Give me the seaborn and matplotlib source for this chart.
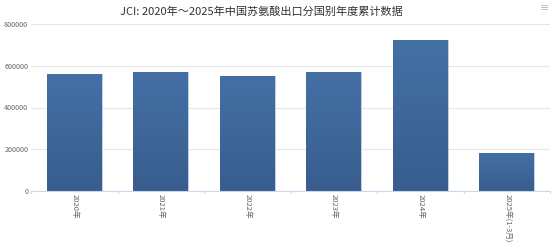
import matplotlib
matplotlib.use("Agg")
import matplotlib.pyplot as plt
import seaborn as sns
import numpy as np
import pandas as pd
from matplotlib.colors import LinearSegmentedColormap

categories = ["2020年", "2021年", "2022年", "2023年", "2024年", "2025年(1-3月)"]
values = [559000, 570000, 551000, 570000, 723000, 183000]
yticks = [0, 200000, 400000, 600000, 800000]
title = "JCI: 2020年～2025年中国苏氨酸出口分国别年度累计数据"

sns.set_theme(style="white")
plt.rcParams['font.family'] = ['Noto Sans CJK SC', 'DejaVu Sans']

df = pd.DataFrame({"cat": categories, "val": values})

fig = plt.figure(figsize=(5.53, 2.44), dpi=100)
ax = fig.add_axes([31/553, 1-191/244, (550-31)/553, (191-24)/244])

sns.barplot(data=df, x="cat", y="val", ax=ax, color="#3e6598", width=0.635,
            saturation=1, edgecolor="#c9d6ea", linewidth=0.6)

# vertical gradient fill on each bar
grad = np.linspace(0, 1, 256).reshape(-1, 1)
cmap = LinearSegmentedColormap.from_list("g", ["#385d8e", "#4570a5"])
for p in ax.patches:
    x0, y0 = p.get_x(), p.get_y()
    w, h = p.get_width(), p.get_height()
    im = ax.imshow(grad, extent=[x0, x0 + w, y0, y0 + h], origin="lower",
                   cmap=cmap, aspect="auto", zorder=p.get_zorder())
    im.set_clip_path(p)

ax.set_xlim(-0.5, len(categories) - 0.5)
ax.set_ylim(0, 800000)
ax.set_yticks(yticks)
ax.set_yticklabels([str(v) for v in yticks], fontsize=5.2, color="#666666")
ax.set_xticks(range(len(categories)))
ax.set_xticklabels(categories, rotation=270, fontsize=5.5, color="#666666",
                   va="top", ha="center")
ax.set_xlabel("")
ax.set_ylabel("")
ax.grid(axis="y", color="#e6e6e6", linewidth=0.8)
ax.set_axisbelow(True)
for s in ["top", "right", "left"]:
    ax.spines[s].set_visible(False)
ax.spines["bottom"].set_color("#ccd6eb")
ax.spines["bottom"].set_linewidth(0.8)
ax.tick_params(axis="x", length=0, pad=2.5)
ax.tick_params(axis="y", length=0, pad=2)

# category boundary tick marks
for b in np.arange(-0.5, len(categories) + 0.5, 1):
    ax.plot([b, b], [0, -8000], color="#ccd6eb", lw=0.8, clip_on=False)

fig.text(0.472, 1 - 12/244, title, ha="center", va="center", fontsize=8,
         color="#333333")
fig.text(545/553, 1 - 8/244, "≡", ha="center", va="center", fontsize=8,
         color="#bbbbbb", family=["DejaVu Sans"])

fig.savefig("out.png", dpi=100)
